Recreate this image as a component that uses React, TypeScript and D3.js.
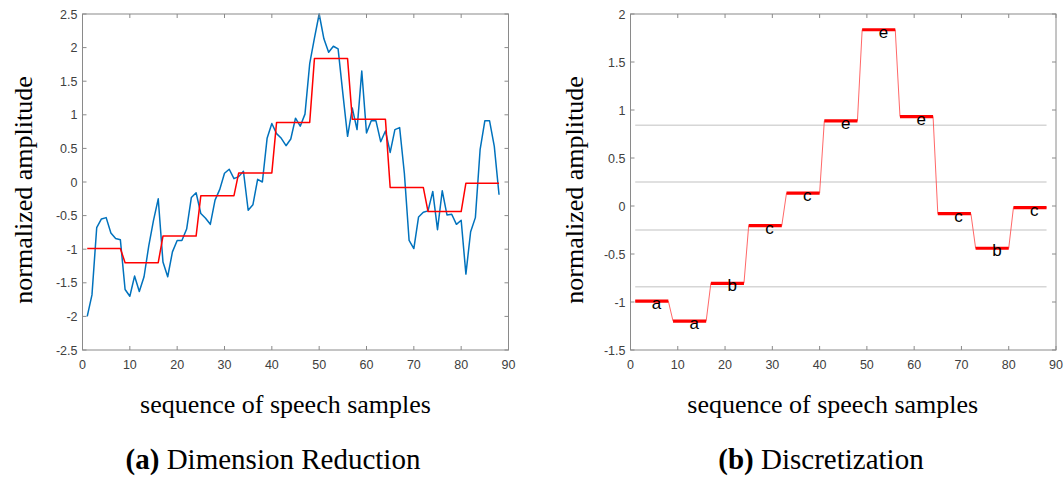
import React from "react";
import * as d3 from "d3";

// ---- data ----
const signal: number[] = [
  -2.0, -1.68, -0.68, -0.55, -0.53, -0.76, -0.84, -0.86,
  -1.6, -1.7, -1.4, -1.63, -1.41, -0.95, -0.57, -0.25,
  -1.19, -1.41, -1.04, -0.87, -0.87, -0.7, -0.23, -0.16,
  -0.47, -0.54, -0.63, -0.27, -0.11, 0.13, 0.19, 0.05,
  0.08, 0.16, -0.42, -0.34, 0.04, 0.0, 0.65, 0.87,
  0.72, 0.65, 0.54, 0.64, 0.95, 0.83, 1.01, 1.76,
  2.14, 2.5, 2.13, 1.93, 2.02, 1.98, 1.32, 0.68,
  1.1, 0.78, 1.65, 0.73, 0.91, 0.91, 0.6, 0.76,
  0.44, 0.78, 0.81, 0.13, -0.87, -0.99, -0.52, -0.45,
  -0.43, -0.14, -0.71, -0.13, -0.49, -0.48, -0.63, -0.57,
  -1.37, -0.74, -0.53, 0.48, 0.91, 0.91, 0.53, -0.19,
];
const paaValues: number[] = [-0.99, -1.2, -0.805, -0.204, 0.135, 0.887, 1.836, 0.932, -0.08, -0.44, -0.017];
const segmentLength = 8;
const symbols: string[] = ["a", "a", "b", "c", "c", "e", "e", "e", "c", "b", "c"];
const breakpoints: number[] = [-0.84, -0.25, 0.25, 0.84];
const xTicks: number[] = [0, 10, 20, 30, 40, 50, 60, 70, 80, 90];
const yTicksA: number[] = [2.5, 2, 1.5, 1, 0.5, 0, -0.5, -1, -1.5, -2, -2.5];
const yTicksB: number[] = [2, 1.5, 1, 0.5, 0, -0.5, -1, -1.5];
const xLabel = "sequence of speech samples";
const yLabel = "normalized amplitude";

const SANS = "'Liberation Sans', Arial, Helvetica, sans-serif";
const SERIF = "'Liberation Serif', 'Times New Roman', serif";
const AXIS = "#8a8a8a";
const TICKTXT = "#404040";
const BLUE = "#0072BD";
const RED = "#FF0000";

const TOP = 14;
const BOTTOM = 350;

type Pt = [number, number];

const signalPts: Pt[] = signal.map((v, i) => [i + 1, v]);
const stepPts: Pt[] = signal.map((_, i) => [i + 1, paaValues[Math.floor(i / segmentLength)]]);

function Axes({
  x,
  y,
  yTicks,
}: {
  x: d3.ScaleLinear<number, number>;
  y: d3.ScaleLinear<number, number>;
  yTicks: number[];
}) {
  const [x0, x1] = x.range();
  const [y0, y1] = y.range(); // y0 bottom, y1 top
  const tl = 4;
  return (
    <g>
      <rect x={x0} y={y1} width={x1 - x0} height={y0 - y1} fill="none" stroke={AXIS} strokeWidth={1} />
      {xTicks.map((t) => (
        <g key={"xt" + t}>
          <line x1={x(t)} x2={x(t)} y1={y0} y2={y0 - tl} stroke={AXIS} />
          <line x1={x(t)} x2={x(t)} y1={y1} y2={y1 + tl} stroke={AXIS} />
          <text x={x(t)} y={y0 + 19} textAnchor="middle" fontFamily={SANS} fontSize={12.5} fill={TICKTXT}>
            {String(t)}
          </text>
        </g>
      ))}
      {yTicks.map((t) => (
        <g key={"yt" + t}>
          <line x1={x0} x2={x0 + tl} y1={y(t)} y2={y(t)} stroke={AXIS} />
          <line x1={x1} x2={x1 - tl} y1={y(t)} y2={y(t)} stroke={AXIS} />
          <text x={x0 - 5} y={y(t) + 4.5} textAnchor="end" fontFamily={SANS} fontSize={12.5} fill={TICKTXT}>
            {String(t)}
          </text>
        </g>
      ))}
    </g>
  );
}

export default function App() {
  const xA = d3.scaleLinear().domain([0, 90]).range([82.5, 508.5]);
  const yA = d3.scaleLinear().domain([-2.5, 2.5]).range([BOTTOM, TOP]);
  const xB = d3.scaleLinear().domain([0, 90]).range([630.5, 1056]);
  const yB = d3.scaleLinear().domain([-1.5, 2]).range([BOTTOM, TOP]);

  const lineA = d3
    .line<Pt>()
    .x((d) => xA(d[0]))
    .y((d) => yA(d[1]));
  const lineB = d3
    .line<Pt>()
    .x((d) => xB(d[0]))
    .y((d) => yB(d[1]));

  const cxA = (82.5 + 508.5) / 2;
  const cxB = (630.5 + 1056) / 2;

  return (
    <svg
      width={1064}
      height={478}
      style={{ position: "absolute", left: 0, top: 0, background: "#fff" }}
    >
      <rect x={0} y={0} width={1064} height={478} fill="#fff" />
      {/* ---- (a) ---- */}
      <path d={lineA(signalPts) || ""} fill="none" stroke={BLUE} strokeWidth={1.5} strokeLinejoin="round" />
      <path d={lineA(stepPts) || ""} fill="none" stroke={RED} strokeWidth={1.5} strokeLinejoin="round" />
      <Axes x={xA} y={yA} yTicks={yTicksA} />
      <text
        transform={`translate(31.5,190) rotate(-90)`}
        textAnchor="middle"
        fontFamily={SERIF}
        fontSize={26}
        fill="#000"
      >
        {yLabel}
      </text>
      <text x={cxA - 10} y={413} textAnchor="middle" fontFamily={SERIF} fontSize={26} fill="#000">
        {xLabel}
      </text>
      <text x={273} y={469} textAnchor="middle" fontFamily={SERIF} fontSize={29} fill="#000">
        <tspan fontWeight="bold">(a)</tspan> Dimension Reduction
      </text>

      {/* ---- (b) ---- */}
      {breakpoints.map((b) => (
        <line
          key={"bp" + b}
          x1={xB(1)}
          x2={xB(88)}
          y1={yB(b)}
          y2={yB(b)}
          stroke="#d6d6d6"
          strokeWidth={1.5}
        />
      ))}
      <path d={lineB(stepPts) || ""} fill="none" stroke="#ff4040" strokeWidth={0.8} />
      {paaValues.map((v, i) => {
        const s = i * segmentLength + 1;
        const e = s + segmentLength - 1;
        return (
          <line
            key={"seg" + i}
            x1={xB(s)}
            x2={xB(e)}
            y1={yB(v)}
            y2={yB(v)}
            stroke={RED}
            strokeWidth={3.2}
          />
        );
      })}
      {paaValues.map((v, i) => {
        const c = i * segmentLength + 1 + (segmentLength - 1) / 2;
        return (
          <text
            key={"sym" + i}
            x={xB(c)}
            y={yB(v) + 8}
            fontFamily={SANS}
            fontSize={17}
            fill="#000"
          >
            {symbols[i]}
          </text>
        );
      })}
      <Axes x={xB} y={yB} yTicks={yTicksB} />
      <text
        transform={`translate(583,190) rotate(-90)`}
        textAnchor="middle"
        fontFamily={SERIF}
        fontSize={26}
        fill="#000"
      >
        {yLabel}
      </text>
      <text x={cxB - 10.5} y={413} textAnchor="middle" fontFamily={SERIF} fontSize={26} fill="#000">
        {xLabel}
      </text>
      <text x={821} y={469} textAnchor="middle" fontFamily={SERIF} fontSize={29} fill="#000">
        <tspan fontWeight="bold">(b)</tspan> Discretization
      </text>
    </svg>
  );
}
